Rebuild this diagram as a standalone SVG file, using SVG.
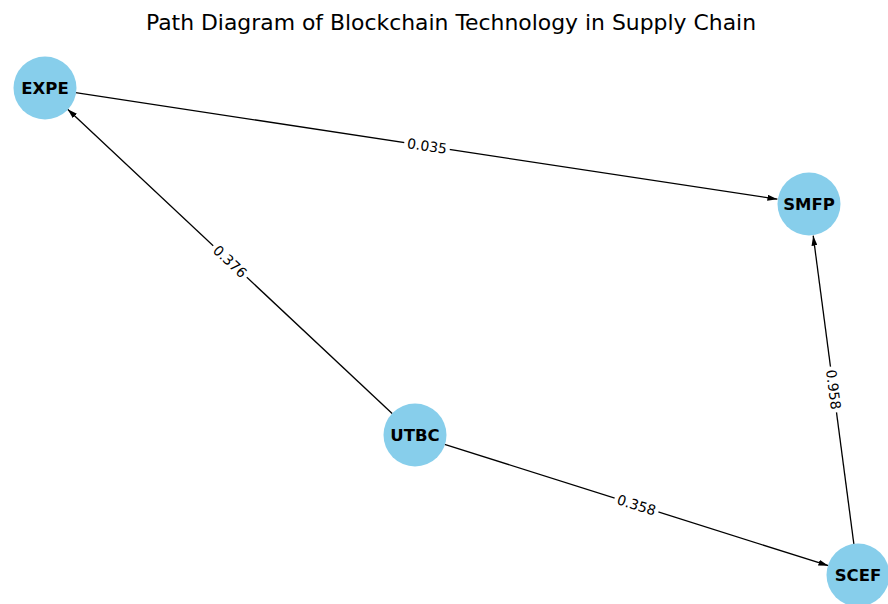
<svg xmlns="http://www.w3.org/2000/svg" width="888" height="604" viewBox="0 0 888 604">
<style>
.node{fill:#87ceeb;}
.nl{font-family:"DejaVu Sans",sans-serif;font-weight:bold;font-size:16.5px;fill:#000;text-anchor:middle;dominant-baseline:central;}
.edge{stroke:#000;stroke-width:1.3;fill:none;marker-end:url(#ah);}
.el{font-family:"DejaVu Sans",sans-serif;font-size:14px;fill:#000;text-anchor:middle;dominant-baseline:central;}
.lb{fill:#fff;}
.title{font-family:"DejaVu Sans",sans-serif;font-size:21.9px;fill:#000;text-anchor:middle;}
</style>
<defs>
<marker id="ah" viewBox="0 0 10 6" refX="10" refY="3" markerWidth="10" markerHeight="6" markerUnits="userSpaceOnUse" orient="auto">
<path d="M0,0 L10,3 L0,6 Z" fill="#000"/>
</marker>
</defs>
<rect width="888" height="604" fill="#fff"/>
<text class="title" x="451" y="29.5">Path Diagram of Blockchain Technology in Supply Chain</text>
<g id="connectors">
<line class="edge" x1="75.6" y1="92.7" x2="777.4" y2="199.2"/>
<line class="edge" x1="392.4" y1="413.8" x2="67.6" y2="109.2"/>
<line class="edge" x1="444.6" y1="444.3" x2="828.4" y2="565.7"/>
<line class="edge" x1="853.9" y1="544.3" x2="813.2" y2="235.7"/>
<g transform="translate(427,146) rotate(8.63)"><rect class="lb" x="-23" y="-8.5" width="46" height="17"/><text class="el" x="0" y="0">0.035</text></g>
<g transform="translate(230,261.5) rotate(43.2)"><rect class="lb" x="-23" y="-8.5" width="46" height="17"/><text class="el" x="0" y="0">0.376</text></g>
<g transform="translate(636.5,505) rotate(17.5)"><rect class="lb" x="-23" y="-8.5" width="46" height="17"/><text class="el" x="0" y="0">0.358</text></g>
<g transform="translate(833.5,389.5) rotate(82.5)"><rect class="lb" x="-23" y="-8.5" width="46" height="17"/><text class="el" x="0" y="0">0.958</text></g>
</g>
<g id="EXPE"><circle class="node" cx="45" cy="88" r="31.5"/><text class="nl" x="45" y="88">EXPE</text></g>
<g id="SMFP"><circle class="node" cx="809" cy="204" r="31.5"/><text class="nl" x="809" y="204">SMFP</text></g>
<g id="UTBC"><circle class="node" cx="415" cy="435" r="31.5"/><text class="nl" x="415" y="435">UTBC</text></g>
<g id="SCEF"><circle class="node" cx="858" cy="575" r="31.5"/><text class="nl" x="858" y="575">SCEF</text></g>
</svg>
